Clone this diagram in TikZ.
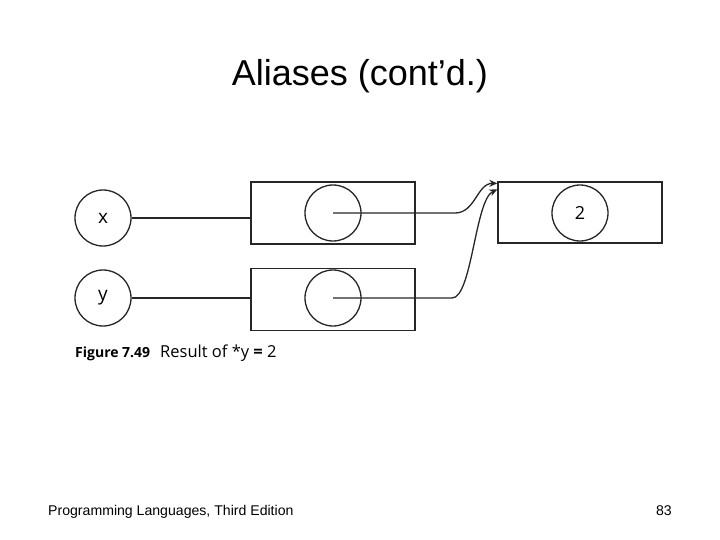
\documentclass[tikz,border=0pt]{standalone}
\usepackage{fontspec}
\setmainfont{Liberation Sans}
\newfontfamily\figfont{Open Sans}
\usepackage{tikz}
\usetikzlibrary{arrows.meta,positioning,calc}

\begin{document}
\begin{tikzpicture}[
    x=1pt, y=-1pt,
    varnode/.style={circle, draw=black!85, line width=1.3pt, minimum size=56pt, inner sep=0pt, font=\figfont\fontsize{19}{19}\selectfont},
    cellbox/.style={rectangle, draw=black!85, line width=1.3pt, minimum width=164pt, minimum height=62pt, inner sep=0pt},
    ptrnode/.style={circle, draw=black!85, line width=1.3pt, minimum size=56pt, inner sep=0pt, font=\figfont\fontsize{18}{18}\selectfont},
    ln/.style={draw=black!85, line width=1.3pt},
    arr/.style={-{Stealth[length=8pt, width=7pt]}, draw=black!85, line width=1.3pt},
  ]
    \useasboundingbox (0,0) rectangle (720,540);

    % --- title ---
    \node[font=\fontsize{36}{36}\selectfont] (title) at (360,76) {Aliases (cont’d.)};

    % --- variables ---
    \node[varnode] (x) at (103,218) {x};
    \node[varnode] (y) at (103,298) {y};

    % --- cells ---
    \node[cellbox] (xcell) at (333,213) {};
    \node[cellbox] (ycell) at (333,299.5) {};
    \node[ptrnode] (xptr) at (333,213) {};
    \node[ptrnode] (yptr) at (333,298) {};

    \node[cellbox, minimum height=61pt] (val) at (580,212.5) {};
    \node[ptrnode] (two) at (580,213) {2};

    \draw[ln] (x) -- (x -| xcell.west);
    \draw[ln] (y) -- (y -| ycell.west);

    % pointer arrows
    \coordinate (xbend) at (455,213);
    \coordinate (ybend) at (452,298);
    \draw[arr] (xptr.center) -- (xbend) to[out=0, in=180] ([yshift=-2pt]val.north west);
    \draw[arr] (yptr.center) -- (ybend) .. controls (472,298) and (475,200) .. ([yshift=-8pt]val.north west);

    % --- caption ---
    \node[anchor=base west, inner sep=0pt, font=\figfont\bfseries\fontsize{14}{14}\selectfont] (fig) at (75,357) {Figure 7.49};
    \node[anchor=base west, inner sep=0pt, font=\figfont\fontsize{16.5}{16.5}\selectfont] (cap) at (160,357) {Result of *y \textbf{=} 2};

    % --- footer ---
    \node[anchor=base west, inner sep=0pt, font=\fontsize{14.1}{14.1}\selectfont] (foot) at (48,515) {Programming Languages, Third Edition};
    \node[anchor=base east, inner sep=0pt, font=\fontsize{14.1}{14.1}\selectfont] (page) at (672,515) {83};
\end{tikzpicture}
\end{document}
